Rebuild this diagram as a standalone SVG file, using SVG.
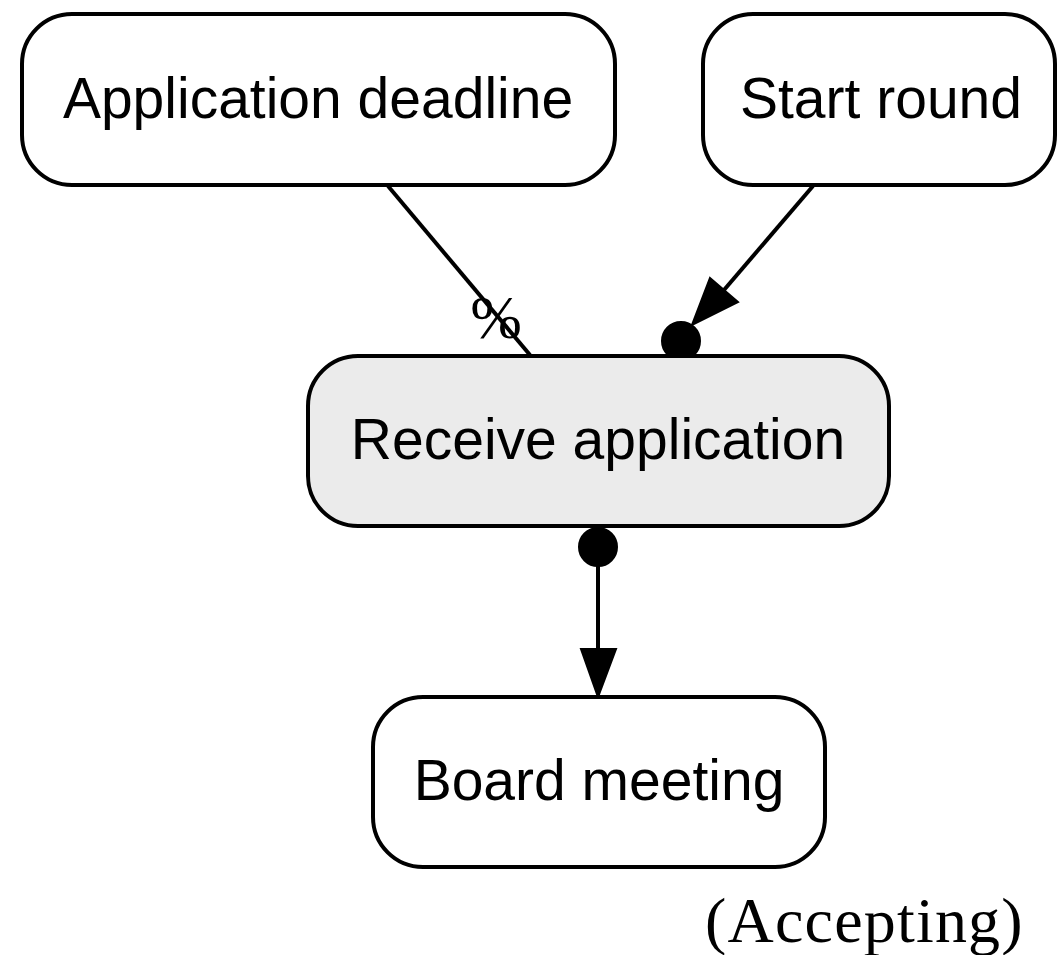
<svg xmlns="http://www.w3.org/2000/svg" width="1058" height="955" viewBox="0 0 1058 955">
<style>
.node rect{stroke:#000;stroke-width:4;fill:#fff}
.node text{font-family:"Liberation Sans",Arial,sans-serif;font-size:57px;text-anchor:middle;fill:#000}
.edge{stroke:#000;stroke-width:4;fill:none}
.head{fill:#000;stroke:#000;stroke-width:2}
.lbl{font-family:"Liberation Serif","Times New Roman",serif;fill:#000}
</style>
<rect width="1058" height="955" fill="#fff"/>
<g id="connectors">
<line class="edge" x1="388" y1="186" x2="530" y2="355"/>
<line class="edge" x1="813" y1="186" x2="724" y2="290"/>
<polygon class="head" points="710,278 738,302 692,325"/>
<circle class="head" cx="681" cy="341" r="19"/>
<circle class="head" cx="598" cy="547" r="19"/>
<line class="edge" x1="598" y1="560" x2="598" y2="650"/>
<polygon class="head" points="581,649 616,649 598,697"/>
<text class="lbl" x="496" y="338" font-size="62" text-anchor="middle">%</text>
</g>
<g id="application_deadline" class="node">
<rect x="22" y="14" width="593" height="171" rx="50" ry="50"/>
<text x="318" y="118">Application deadline</text>
</g>
<g id="start_round" class="node">
<rect x="703" y="14" width="352" height="171" rx="50" ry="50"/>
<text x="881" y="118">Start round</text>
</g>
<g id="receive_application" class="node">
<rect x="308" y="356" width="581" height="170" rx="50" ry="50" style="fill:#ebebeb"/>
<text x="598" y="459">Receive application</text>
</g>
<g id="board_meeting" class="node">
<rect x="373" y="697" width="452" height="170" rx="50" ry="50"/>
<text x="599" y="800">Board meeting</text>
</g>
<text class="lbl" x="705" y="942" font-size="64" letter-spacing="1.2">(Accepting)</text>
</svg>
